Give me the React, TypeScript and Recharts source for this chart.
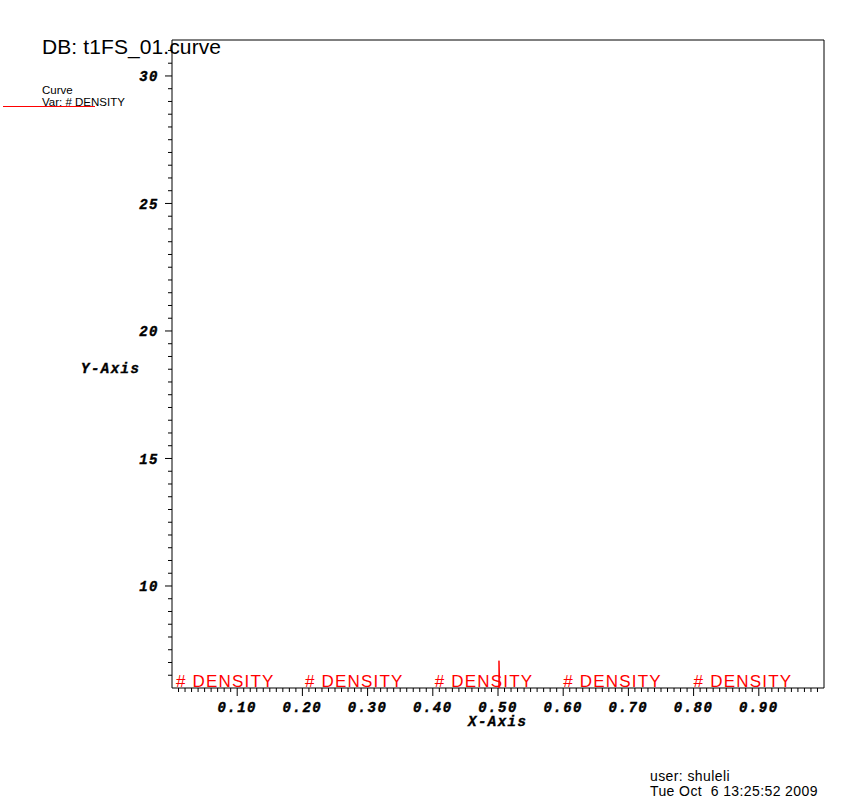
import { ComposedChart, Line, Scatter, XAxis, YAxis, ReferenceArea } from 'recharts'

// ─── Data ─────────────────────────────────────────────────────────────────────

// curve samples (most of it sits below the visible y range)
const posX = [0, 0.1, 0.2, 0.3, 0.4, 0.45, 0.499, 0.5015, 0.5025, 0.504, 0.55, 0.6, 0.7, 0.8, 0.9, 1.0]
const density = [1, 1, 1, 1, 1, 1, 1, 7.07, 6.4, 1, 1, 1, 1, 1, 1, 1]

// where the "# DENSITY" curve labels sit along the bottom
const labelX = [0.006, 0.204, 0.403, 0.6, 0.8]
const labelY = [6, 6, 6, 6, 6]
const curveName = '# DENSITY'

const xMajorTicks = [0.1, 0.2, 0.3, 0.4, 0.5, 0.6, 0.7, 0.8, 0.9]
const xTickLabels = ['0.10', '0.20', '0.30', '0.40', '0.50', '0.60', '0.70', '0.80', '0.90']
const yMajorTicks = [10, 15, 20, 25, 30]
const yTickLabels = ['10', '15', '20', '25', '30']

const X_DOMAIN: [number, number] = [0, 1]
const Y_DOMAIN: [number, number] = [6, 31.41]

// minor ticks: every 0.01 on x, every 0.5 on y
const xTicks = Array.from({ length: 99 }, (_, i) => (i + 1) / 100)
const yTicks = Array.from({ length: 50 }, (_, i) => 6.5 + i * 0.5)

const curveData = posX.map((x, i) => ({ x, d: density[i] }))
const labelData = labelX.map((x, i) => ({ x, d: labelY[i] }))

// ─── Styles ───────────────────────────────────────────────────────────────────

const axisFont = {
  fontFamily: '"Liberation Mono", "DejaVu Sans Mono", monospace',
  fontWeight: 700,
  fontStyle: 'italic',
  fontSize: 14,
  letterSpacing: 1.5,
  stroke: '#000',
  strokeWidth: 0.4,
}
const sans = '"Liberation Sans", Arial, sans-serif'

// ─── Ticks ────────────────────────────────────────────────────────────────────

function YTick({ x, y, payload }: any) {
  const idx = yMajorTicks.indexOf(payload.value)
  const major = idx >= 0
  return (
    <g>
      <line x1={x - (major ? 7 : 4)} x2={x} y1={y} y2={y} stroke="#000" />
      {major && (
        <text x={x - 13} y={y} dy="0.36em" textAnchor="end" fill="#000" {...axisFont}>
          {yTickLabels[idx]}
        </text>
      )}
    </g>
  )
}

function XTick({ x, y, payload }: any) {
  const idx = xMajorTicks.findIndex(t => Math.abs(t - payload.value) < 1e-6)
  const major = idx >= 0
  return (
    <g>
      <line x1={x} x2={x} y1={y} y2={y + (major ? 8 : 4)} stroke="#000" />
      {major && (
        <text x={x} y={y + 24} textAnchor="middle" fill="#000" {...axisFont}>
          {xTickLabels[idx]}
        </text>
      )}
    </g>
  )
}

function CurveLabel({ cx, cy }: any) {
  return (
    <text x={cx} y={cy - 1} fill="#ff0000" fontFamily={sans} fontSize={17} letterSpacing={1.2}>
      {curveName}
    </text>
  )
}

// ─── Component ────────────────────────────────────────────────────────────────

export default function App() {
  return (
    <div style={{ position: 'relative', width: 868, height: 809, background: '#fff' }}>
      <style>{'body{margin:0}'}</style>
      <ComposedChart
        width={868}
        height={809}
        margin={{ top: 40, right: 44, bottom: 91, left: 112 }}
      >
        <XAxis
          dataKey="x"
          type="number"
          domain={X_DOMAIN}
          ticks={xTicks}
          interval={0}
          tick={XTick}
          tickSize={0}
          tickMargin={0}
          tickLine={false}
          axisLine={false}
          height={30}
          allowDataOverflow
        />
        <YAxis
          type="number"
          domain={Y_DOMAIN}
          ticks={yTicks}
          interval={0}
          tick={YTick}
          tickSize={0}
          tickMargin={0}
          tickLine={false}
          axisLine={false}
          width={60}
          allowDataOverflow
        />
        <ReferenceArea
          x1={X_DOMAIN[0]}
          x2={X_DOMAIN[1]}
          y1={Y_DOMAIN[0]}
          y2={Y_DOMAIN[1]}
          fill="none"
          fillOpacity={0}
          stroke="#000"
          strokeWidth={1}
        />
        <Line
          data={curveData}
          dataKey="d"
          type="linear"
          stroke="#ff0000"
          strokeWidth={1}
          dot={false}
          isAnimationActive={false}
        />
        <Scatter data={labelData} dataKey="d" shape={CurveLabel} isAnimationActive={false} />
      </ComposedChart>

      <svg
        width={868}
        height={809}
        style={{ position: 'absolute', left: 0, top: 0, pointerEvents: 'none' }}
      >
        <text x={42} y={54} fontFamily={sans} fontSize={21} letterSpacing={0.1} fill="#000">DB: t1FS_01.curve</text>
        <text x={42} y={94} fontFamily={sans} fontSize={11.5} fill="#000">Curve</text>
        <text x={42} y={106} fontFamily={sans} fontSize={11.5} fill="#000">Var: # DENSITY</text>
        <line x1={3} x2={95} y1={106.5} y2={106.5} stroke="#ff0000" />
        <text x={81} y={373} fill="#000" {...axisFont}>Y-Axis</text>
        <text x={468} y={726} fill="#000" {...axisFont}>X-Axis</text>
        <text x={650} y={781} fontFamily={sans} fontSize={14} letterSpacing={0.4} fill="#000">user: shuleli</text>
        <text x={650} y={796} fontFamily={sans} fontSize={14} letterSpacing={0.4} fill="#000" style={{ whiteSpace: 'pre' }}>
          Tue Oct  6 13:25:52 2009
        </text>
      </svg>
    </div>
  )
}
